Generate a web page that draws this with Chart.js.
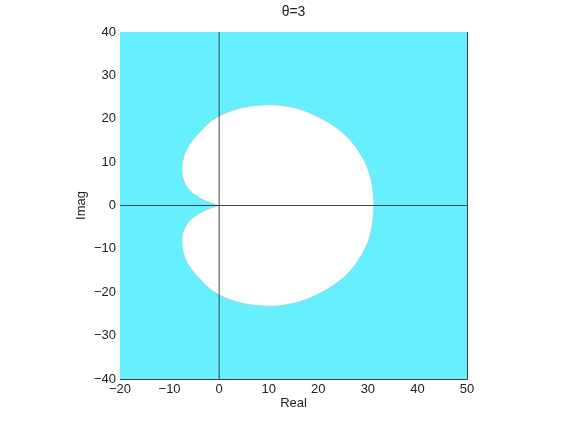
<!DOCTYPE html>
<html>
<head>
<meta charset="utf-8">
<script src="https://cdn.jsdelivr.net/npm/chart.js@4/dist/chart.umd.min.js"></script>
<style>
  html, body { margin: 0; padding: 0; background: #fff; }
  #wrap { width: 567px; height: 427px; }
</style>
</head>
<body>
<div id="wrap"><canvas id="plot"></canvas></div>
<script>
// axis limits and tick spacing
const xLimits = [-20, 50];
const yLimits = [-40, 40];
const tickStep = 10;

// boundary of the white region (closed loop, starting and ending at the cusp)
const boundaryRe = [
  -0.2, -1.0, -2.6, -4.3, -6.0, -7.2, -7.5, -7.3, -6.6, -5.3, -3.6, -2.0, 0.0, 2.4, 5.3,
  8.2, 11.0, 14.0, 17.0, 19.8, 22.4, 24.8, 26.8, 28.4, 29.6, 30.5, 31.0, 31.2,
  31.0, 30.5, 29.6, 28.4, 26.8, 24.8, 22.4, 19.8, 17.0, 14.0, 11.0, 8.2,
  5.3, 2.4, 0.0, -2.0, -3.6, -5.3, -6.6, -7.3, -7.5, -7.2, -6.0, -4.3, -2.6, -1.0, -0.2,
];
const boundaryIm = [
  0, 0.35, 1.0, 2.0, 3.6, 5.9, 8.2, 10.5, 12.8, 15.1, 17.3, 19.1, 20.6, 21.8, 22.7,
  23.1, 23.2, 22.8, 21.9, 20.5, 18.9, 16.9, 14.6, 12.0, 9.5, 6.6, 3.4, 0,
  -3.4, -6.6, -9.5, -12.0, -14.6, -16.9, -18.9, -20.5, -21.9, -22.8, -23.2, -23.1,
  -22.7, -21.8, -20.6, -19.1, -17.3, -15.1, -12.8, -10.5, -8.2, -5.9, -3.6, -2.0, -1.0, -0.35, 0,
];

const COLORS = {
  region: "rgb(102, 240, 255)",
  hole: "#ffffff",
  holeEdge: "rgba(150, 210, 222, 1)",
  axis: "#444444",
  text: "#222222",
};

const FONT = { family: "'Liberation Sans', Arial, sans-serif", size: 13 };

const minus = (v) => String(v).replace("-", "\u2212");

// paints the plot area with the region colour
const regionFill = {
  id: "regionFill",
  beforeDatasetsDraw(chart) {
    const { ctx, chartArea: a } = chart;
    ctx.save();
    ctx.fillStyle = COLORS.region;
    ctx.fillRect(a.left, a.top, a.right - a.left, a.bottom - a.top);
    ctx.restore();
  },
};

const fixSize = (prop, px) => (scale) => { scale[prop] = px; };

const boundary = boundaryRe.map((x, i) => ({ x, y: boundaryIm[i] }));

new Chart(document.getElementById("plot"), {
  type: "line",
  data: {
    datasets: [
      {
        data: [{ x: 0, y: yLimits[0] }, { x: 0, y: yLimits[1] }],
        borderColor: COLORS.axis, borderWidth: 1, pointRadius: 0, tension: 0, order: 0,
      },
      {
        data: [{ x: xLimits[0], y: 0 }, { x: xLimits[1], y: 0 }],
        borderColor: COLORS.axis, borderWidth: 1, pointRadius: 0, tension: 0, order: 0,
      },
      {
        data: boundary,
        fill: "shape", tension: 0.4,
        backgroundColor: COLORS.hole, borderColor: COLORS.holeEdge, borderWidth: 0.8,
        pointRadius: 0, order: 1,
      },
    ],
  },
  options: {
    responsive: true,
    maintainAspectRatio: false,
    animation: false,
    layout: { padding: 0 },
    plugins: { legend: { display: false }, tooltip: { enabled: false }, title: { display: false } },
    scales: {
      x: {
        type: "linear", position: "bottom", min: xLimits[0], max: xLimits[1],
        afterFit: fixSize("height", 48),
        grid: { display: false, drawTicks: false },
        border: { display: true, color: COLORS.axis, width: 1 },
        ticks: { stepSize: tickStep, padding: 3, color: COLORS.text, font: FONT, maxRotation: 0, callback: minus },
        title: { display: true, text: "Real", color: COLORS.text, font: FONT, padding: { top: 0, bottom: 16 } },
      },
      y: {
        type: "linear", position: "left", min: yLimits[0], max: yLimits[1],
        afterFit: fixSize("width", 120),
        grid: { display: false, drawTicks: false },
        border: { display: true, color: COLORS.axis, width: 1 },
        ticks: { stepSize: tickStep, padding: 4, color: COLORS.text, font: FONT, callback: minus },
        title: { display: true, text: "Imag", color: COLORS.text, font: FONT, padding: { top: 74, bottom: 0 } },
      },
      x2: {
        type: "linear", position: "top", min: xLimits[0], max: xLimits[1],
        afterFit: fixSize("height", 32),
        grid: { display: false, drawTicks: false },
        border: { display: true, color: COLORS.axis, width: 1 },
        ticks: { display: false },
        title: { display: true, text: "\u03b8=3", color: COLORS.text, font: { family: FONT.family, size: 14 }, padding: { top: 4, bottom: 0 } },
      },
      y2: {
        type: "linear", position: "right", min: yLimits[0], max: yLimits[1],
        afterFit: fixSize("width", 100),
        grid: { display: false, drawTicks: false },
        border: { display: true, color: COLORS.axis, width: 1 },
        ticks: { display: false },
      },
    },
  },
  plugins: [regionFill],
});
</script>
</body>
</html>
